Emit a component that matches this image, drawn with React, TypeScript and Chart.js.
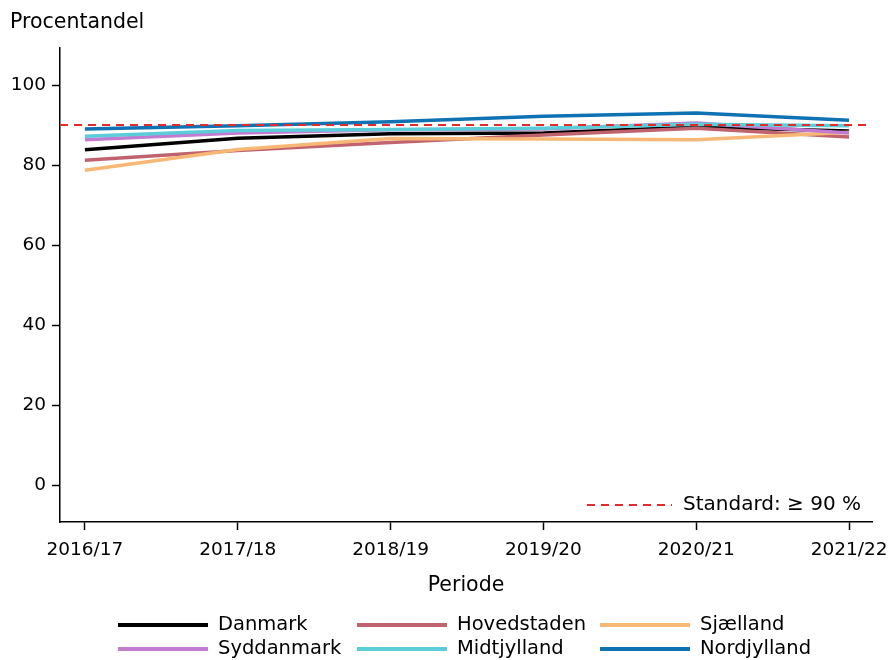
import React, { useEffect, useRef } from "react";
import { Chart, registerables } from "chart.js";

Chart.register(...registerables);

const PERIODS = ["2016/17", "2017/18", "2018/19", "2019/20", "2020/21", "2021/22"];
const Y_TICKS = [0, 20, 40, 60, 80, 100];
const STANDARD = 90;

const danmark = [83.8, 86.7, 87.8, 88.0, 89.5, 88.5];
const hovedstaden = [81.2, 83.6, 85.6, 87.5, 89.2, 87.0];
const sjaelland = [78.7, 83.9, 86.6, 86.5, 86.3, 88.2];
const syddanmark = [86.3, 88.0, 88.8, 89.0, 90.5, 88.0];
const midtjylland = [87.2, 88.6, 88.9, 89.2, 90.2, 89.8];
const nordjylland = [89.0, 89.8, 90.8, 92.2, 93.0, 91.2];

const SERIES_NAMES = ["Danmark", "Hovedstaden", "Sjælland", "Syddanmark", "Midtjylland", "Nordjylland"];
const SERIES_VALUES = [danmark, hovedstaden, sjaelland, syddanmark, midtjylland, nordjylland];
const SERIES_COLORS = ["#000000", "#c0636e", "#f7b775", "#c27bd0", "#5bcdd9", "#0e72b3"];

const FONT = "'DejaVu Sans', sans-serif";
const RED = "#e32b2b";

const overlayPlugin = {
  id: "overlay",
  afterDatasetsDraw(chart: any) {
    const ctx = chart.ctx;
    const area = chart.chartArea;
    const y = chart.scales.y.getPixelForValue(STANDARD);
    ctx.save();
    ctx.strokeStyle = RED;
    ctx.lineWidth = 2;
    ctx.setLineDash([8, 6]);
    ctx.beginPath();
    ctx.moveTo(area.left, y);
    ctx.lineTo(area.right, y);
    ctx.stroke();
    ctx.restore();
  },
  afterDraw(chart: any) {
    const ctx = chart.ctx;
    const area = chart.chartArea;
    ctx.save();
    ctx.fillStyle = "#000";
    ctx.textBaseline = "middle";
    ctx.font = `20.5px ${FONT}`;
    ctx.textAlign = "left";
    ctx.fillText("Procentandel", 10, 23);
    ctx.textAlign = "center";
    ctx.fillText("Periode", (area.left + area.right) / 2, 586);
    // standard legend inside plot
    ctx.strokeStyle = RED;
    ctx.lineWidth = 2;
    ctx.setLineDash([8, 6]);
    ctx.beginPath();
    ctx.moveTo(587, 505);
    ctx.lineTo(672, 505);
    ctx.stroke();
    ctx.setLineDash([]);
    ctx.font = `20px ${FONT}`;
    ctx.textAlign = "left";
    ctx.fillText("Standard: \u2265 90 %", 683, 505);
    // series legend
    const colX = [118, 357, 600];
    const rowY = [625, 649];
    ctx.font = `19.5px ${FONT}`;
    chart.data.datasets.forEach((ds: any, i: number) => {
      const cx = colX[i % 3];
      const cy = rowY[Math.floor(i / 3)];
      ctx.strokeStyle = ds.borderColor;
      ctx.lineWidth = 4;
      ctx.beginPath();
      ctx.moveTo(cx, cy);
      ctx.lineTo(cx + 90, cy);
      ctx.stroke();
      ctx.fillStyle = "#000";
      ctx.fillText(ds.label, cx + 100, cy);
    });
    ctx.restore();
  },
};

export default function App() {
  const ref = useRef<HTMLCanvasElement>(null);
  useEffect(() => {
    if (!ref.current) return;
    const chart = new Chart(ref.current, {
      type: "line",
      data: {
        datasets: SERIES_NAMES.map((name, i) => ({
          label: name,
          data: SERIES_VALUES[i].map((v, j) => ({ x: j, y: v })),
          borderColor: SERIES_COLORS[i],
          backgroundColor: SERIES_COLORS[i],
          borderWidth: 3.5,
          pointRadius: 0,
          tension: 0,
          fill: false,
          order: SERIES_NAMES.length - i,
        })),
      },
      options: {
        animation: false,
        responsive: true,
        maintainAspectRatio: false,
        layout: { padding: { left: 0, top: 48, right: 16, bottom: 0 } },
        plugins: { legend: { display: false }, title: { display: false }, tooltip: { enabled: false } },
        scales: {
          x: {
            type: "linear",
            min: -0.163,
            max: 5.15,
            afterBuildTicks: (s: any) => {
              s.ticks = PERIODS.map((_, i) => ({ value: i }));
            },
            afterFit: (s: any) => {
              s.height = 138;
              s.paddingLeft = 0;
              s.paddingRight = 0;
            },
            ticks: {
              callback: (v: any) => PERIODS[v] ?? "",
              color: "#000",
              font: { family: FONT, size: 18.5 },
              padding: 9,
              maxRotation: 0,
              autoSkip: false,
            },
            grid: { display: true, drawOnChartArea: false, drawTicks: true, tickLength: 8, tickWidth: 1.5, tickColor: "#000", color: "#000" },
            border: { display: true, color: "#000", width: 1.5 },
          },
          y: {
            type: "linear",
            min: -9.25,
            max: 109.25,
            afterBuildTicks: (s: any) => {
              s.ticks = Y_TICKS.map((v) => ({ value: v }));
            },
            afterFit: (s: any) => {
              s.width = 60;
              s.paddingTop = 0;
              s.paddingBottom = 0;
            },
            ticks: {
              color: "#000",
              font: { family: FONT, size: 18.5 },
              padding: 6,
            },
            grid: { display: true, drawOnChartArea: false, drawTicks: true, tickLength: 8, tickWidth: 1.5, tickColor: "#000", color: "#000" },
            border: { display: true, color: "#000", width: 1.5 },
          },
        },
      },
      plugins: [overlayPlugin],
    });
    return () => chart.destroy();
  }, []);
  return (
    <div style={{ position: "fixed", left: 0, top: 0, width: 888, height: 660, background: "#fff" }}>
      <canvas ref={ref} />
    </div>
  );
}
